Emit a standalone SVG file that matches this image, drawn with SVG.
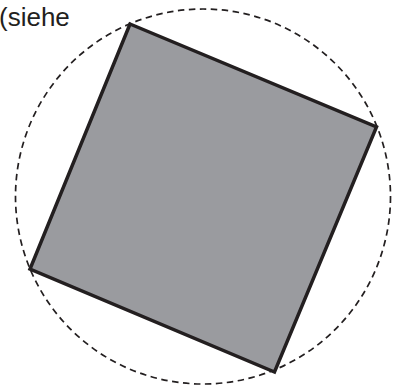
<svg xmlns="http://www.w3.org/2000/svg" width="397" height="389" viewBox="0 0 397 389">
<style>
.lbl{font-family:"Liberation Sans",Arial,sans-serif;font-size:26px;fill:#231f20}
.circ{fill:none;stroke:#231f20;stroke-width:1.7;stroke-dasharray:6.5 4.5}
.sq{fill:#9a9b9f;stroke:#231f20;stroke-width:3.5;stroke-linejoin:miter}
</style>
<g id="circle"><circle class="circ" cx="203" cy="196.5" r="187.5"/></g>
<g id="square"><polygon class="sq" points="130,24 376.5,127 274.5,372 30,269"/></g>
<g id="label"><text class="lbl" x="-1" y="26">(siehe</text></g>
</svg>
